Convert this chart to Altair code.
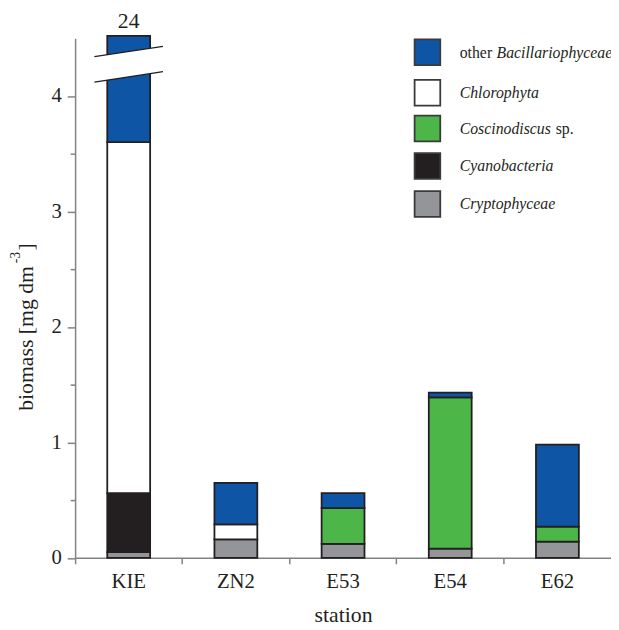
import altair as alt
import pandas as pd

# ---------------- data ----------------
stations = ["KIE", "ZN2", "E53", "E54", "E62"]
groups = ["Cryptophyceae", "Cyanobacteria", "Coscinodiscus sp.", "Chlorophyta", "other Bacillariophyceae"]
cryptophyceae = [0.05, 0.16, 0.12, 0.08, 0.14]
cyanobacteria = [0.51, 0.00, 0.00, 0.00, 0.00]
coscinodiscus = [0.00, 0.00, 0.31, 1.31, 0.13]
chlorophyta = [3.04, 0.13, 0.00, 0.00, 0.00]
other_bacillariophyceae = [20.40, 0.36, 0.13, 0.04, 0.71]
group_colors = ["#939598", "#231f20", "#4cb748", "#ffffff", "#0f55a5"]

y_major = [0, 1, 2, 3, 4]
y_minor = [0.5, 1.5, 2.5, 3.5]
y_max = 4.5
cap = 4.52  # broken KIE bar drawn up to here

# axis-break decoration (x in station-band units, y in data units)
break_line_id = ["upper", "upper", "lower", "lower"]
break_x = [0.18, 0.82, 0.18, 0.82]
break_y = [4.34, 4.43, 4.12, 4.21]
gap_x = [0.27, 0.73]
gap_top = [4.353, 4.417]
gap_bottom = [4.133, 4.197]

FONT = "Liberation Serif"
INK = "#231f20"
AXIS = "#808285"

series = [cryptophyceae, cyanobacteria, coscinodiscus, chlorophyta, other_bacillariophyceae]
rows = []
totals = []
for i, s in enumerate(stations):
    base = 0.0
    for g, vals in zip(groups, series):
        v = vals[i]
        if v > 0:
            rows.append({"station": s, "group": g, "y0": base, "y1": min(base + v, cap)})
        base += v
    totals.append(round(base, 1))
df = pd.DataFrame(rows)

yscale = alt.Scale(domain=[0, y_max], nice=False, zero=True)
xband = alt.Scale(type="band", domain=stations, paddingInner=0, paddingOuter=0)

bars = alt.Chart(df).mark_bar(
    width=alt.RelativeBandSize(0.4), stroke=INK, strokeWidth=1.8
).encode(
    x=alt.X("station:N", sort=stations, scale=xband,
            axis=alt.Axis(title="station", bandPosition=0,
                          tickSize=6, labelPadding=7, labelAngle=0,
                          labelFont=FONT, labelFontSize=21, labelColor=INK,
                          titleFont=FONT, titleFontSize=22, titleColor=INK,
                          titleFontWeight="normal", titlePadding=14,
                          domainColor=AXIS, tickColor=AXIS,
                          domainWidth=1.5, tickWidth=1.5, grid=False)),
    y=alt.Y("y0:Q", scale=yscale,
            axis=alt.Axis(title=None, values=sorted(y_major + y_minor),
                          labelExpr="datum.value % 1 === 0 ? format(datum.value, 'd') : ''",
                          tickSize={"condition": {"test": "datum.value % 1 === 0", "value": 8}, "value": 5},
                          labelPadding=6, labelFont=FONT, labelFontSize=21, labelColor=INK,
                          domainColor=AXIS, tickColor=AXIS, domainWidth=1.5, tickWidth=1.5,
                          grid=False)),
    y2="y1:Q",
    color=alt.Color("group:N", scale=alt.Scale(domain=groups, range=group_colors), legend=None),
)

label24 = alt.Chart(pd.DataFrame({"station": stations[:1], "total": totals[:1]})).mark_text(
    font=FONT, fontSize=22, color=INK, baseline="alphabetic", align="center"
).encode(
    x=alt.X("station:N", scale=xband, axis=None),
    y=alt.value(-10.5),
    text=alt.Text("total:Q", format=".0f"),
)

xq = alt.Scale(domain=[0, len(stations)], nice=False, zero=False)
gap = alt.Chart(pd.DataFrame({"bx": gap_x, "top": gap_top, "bottom": gap_bottom})).mark_area(
    color="white", opacity=1
).encode(
    x=alt.X("bx:Q", scale=xq, axis=None),
    y=alt.Y("top:Q", scale=yscale, title=None),
    y2="bottom:Q",
)
blines = alt.Chart(pd.DataFrame({"line": break_line_id, "bx": break_x, "by": break_y})).mark_line(
    color=INK, strokeWidth=1.3
).encode(
    x=alt.X("bx:Q", scale=xq, axis=None),
    y=alt.Y("by:Q", scale=yscale, title=None),
    detail="line:N",
)

# ---------------- manual legend ----------------
dummy = pd.DataFrame({"k": [0]})
legend_colors = list(reversed(group_colors))
legend_parts = [
    [("other ", "normal", 389.7), ("Bacillariophyceae", "italic", 427.0)],
    [("Chlorophyta", "italic", 389.7)],
    [("Coscinodiscus", "italic", 389.7), ("sp.", "normal", 487.0)],
    [("Cyanobacteria", "italic", 389.7)],
    [("Cryptophyceae", "italic", 389.7)],
]
legend_cy = [14.2, 55.2, 91.5, 129.5, 168.0]
legend_layers = []
for col, parts, cy in zip(legend_colors, legend_parts, legend_cy):
    legend_layers.append(
        alt.Chart(dummy).mark_rect(fill=col, stroke="#3a3a3a", strokeWidth=1.8).encode(
            x=alt.value(344), x2=alt.value(370), y=alt.value(cy - 13), y2=alt.value(cy + 13)
        )
    )
    for txt, style, px in parts:
        legend_layers.append(
            alt.Chart(dummy).mark_text(
                text=txt, font=FONT, fontSize=16, fontStyle=style, color=INK,
                align="left", baseline="alphabetic"
            ).encode(x=alt.value(px), y=alt.value(cy + 5.5))
        )

# ---------------- y title with superscript ----------------
ytitle = [
    alt.Chart(dummy).mark_text(text="biomass [mg dm", font=FONT, fontSize=22, color=INK,
                               angle=270, align="left", baseline="alphabetic"
                               ).encode(x=alt.value(-43), y=alt.value(377.5)),
    alt.Chart(dummy).mark_text(text="-3", font=FONT, fontSize=14, color=INK,
                               angle=270, align="left", baseline="alphabetic"
                               ).encode(x=alt.value(-56), y=alt.value(228)),
    alt.Chart(dummy).mark_text(text="]", font=FONT, fontSize=22, color=INK,
                               angle=270, align="left", baseline="alphabetic"
                               ).encode(x=alt.value(-43), y=alt.value(215)),
]

chart = alt.layer(bars, label24, gap, blines, *legend_layers, *ytitle).resolve_scale(
    x="independent"
).properties(
    width=543, height=526.5,
    padding={"left": 68, "top": 26.5, "right": 0, "bottom": 69},
    autosize=alt.AutoSizeParams(type="none"),
).configure_view(stroke=None)

chart.save("out.html", embed_options={"renderer": "svg", "actions": False})
